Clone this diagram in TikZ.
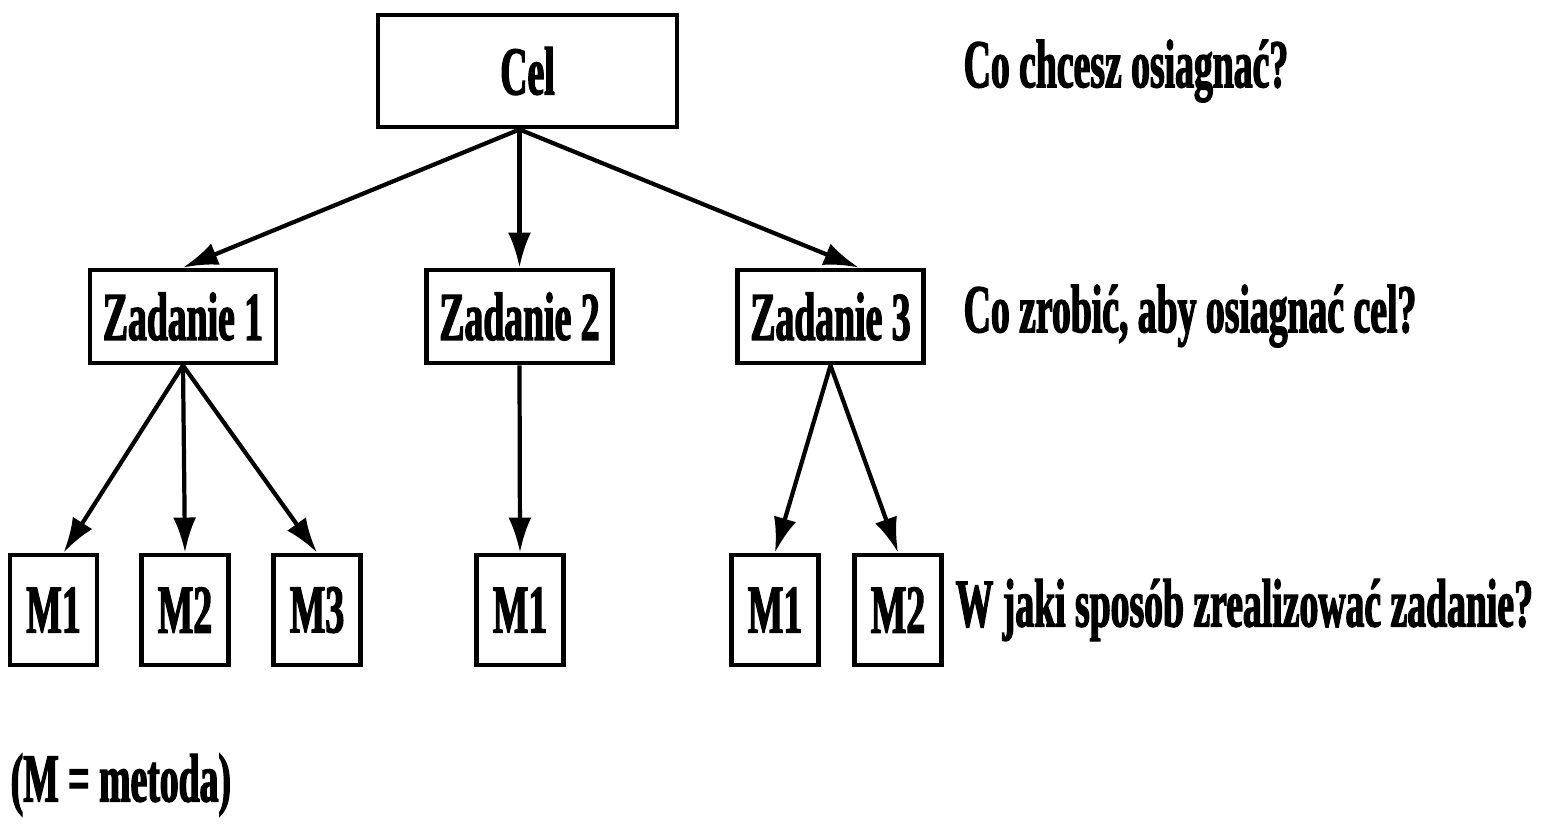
\documentclass[tikz,border=0pt]{standalone}
\usepackage{fontspec}
\setmainfont{Liberation Serif}[FakeStretch=0.55,BoldFeatures={FakeBold=1.8}]
\usetikzlibrary{arrows.meta}

\begin{document}
\begin{tikzpicture}[
  box/.style={draw,line width=1.4pt,inner sep=0pt,font=\bfseries\fontsize{19.5}{22}\selectfont},
  zbox/.style={box,minimum width=1.86cm,minimum height=0.93cm},
  mbox/.style={box,minimum width=0.87cm,minimum height=1.10cm},
  arr/.style={line width=1.2pt,-{Latex[length=3.5mm,width=2.3mm]}},
  ask/.style={anchor=west,inner sep=0pt,font=\bfseries\fontsize{19.5}{22}\selectfont}]
\useasboundingbox (0,0) rectangle (15.64,8.36);

% goal
\node[box,minimum width=2.99cm,minimum height=1.12cm] (cel) at (5.275,7.65) {Cel};

% tasks
\node[zbox] (z1) at (1.83,5.195) {Zadanie 1};
\node[zbox] (z2) at (5.195,5.195) {Zadanie 2};
\node[zbox] (z3) at (8.305,5.195) {Zadanie 3};

% methods
\node[mbox] (m11) at (0.535,2.26) {M1};
\node[mbox] (m12) at (1.85,2.26) {M2};
\node[mbox] (m13) at (3.17,2.26) {M3};
\node[mbox] (m21) at (5.20,2.26) {M1};
\node[mbox] (m31) at (7.75,2.26) {M1};
\node[mbox] (m32) at (8.98,2.26) {M2};

% questions
\node[ask] (q1) at (9.63,7.65) {Co chcesz osiagnać?};
\node[ask] (q2) at (9.63,5.20) {Co zrobić, aby osiagnać cel?};
\node[ask] (q3) at (9.55,2.26) {W jaki sposób zrealizować zadanie?};
\node[ask] (note) at (0.10,0.51) {(M = metoda)};

\draw[arr] (cel.south -| z2) -- (z1.north);
\draw[arr] (cel.south -| z2) -- (z2.north);
\draw[arr] (cel.south -| z2) -- (z3.60);

\draw[arr] (z1.south) -- (m11.80);
\draw[arr] (z1.south) -- (m12.north);
\draw[arr] (z1.south) -- (m13.north);
\draw[arr] (z2.south) -- (m21.north);
\draw[arr] (z3.south) -- (m31.north);
\draw[arr] (z3.south) -- (m32.north);

\end{tikzpicture}
\end{document}
